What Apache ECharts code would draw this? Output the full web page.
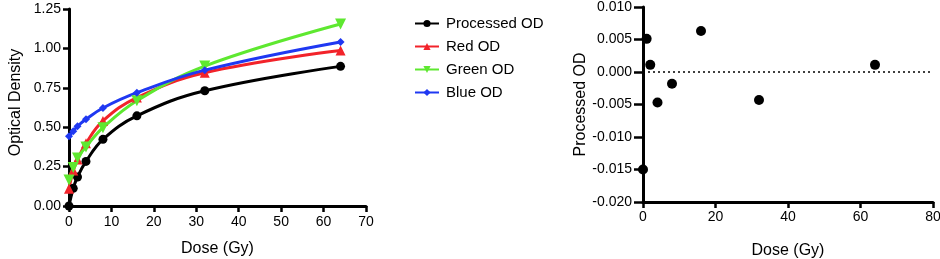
<!DOCTYPE html>
<html>
<head>
<meta charset="utf-8">
<script src="https://cdn.jsdelivr.net/npm/echarts@6/dist/echarts.min.js"></script>
<style>
  html, body { margin: 0; padding: 0; background: #fff; }
  #chart { width: 940px; height: 259px; }
</style>
</head>
<body>
<div id="chart"></div>
<script>
// dose points (Gy)
const doses = [0, 1, 2, 4, 8, 16, 32, 64];
// optical density per channel
const processedOD = [0.00, 0.112, 0.184, 0.283, 0.423, 0.572, 0.731, 0.886];
const redOD = [0.11, 0.225, 0.295, 0.398, 0.54, 0.688, 0.845, 0.986];
const greenOD = [0.165, 0.245, 0.305, 0.375, 0.497, 0.668, 0.888, 1.155];
const blueOD = [0.443, 0.475, 0.506, 0.55, 0.622, 0.719, 0.862, 1.041];
// residuals of processed OD
const residuals = [-0.015, 0.0051, 0.0011, -0.0047, -0.0018, 0.0063, -0.0043, 0.0011];

const toPairs = vals => doses.map((d, i) => [d, vals[i]]);

const font = 'Liberation Sans, Arial, sans-serif';

const axisCommon = {
  axisLine: { show: true, onZero: false, lineStyle: { color: '#000', width: 3 } },
  axisTick: { show: true, length: 6, lineStyle: { color: '#000', width: 2.5 } },
  axisLabel: { color: '#000', fontSize: 14, fontFamily: font },
  splitLine: { show: false },
  nameTextStyle: { color: '#000', fontSize: 16, fontFamily: font }
};

function odLine(name, vals, color, symbol, size, rotate) {
  return {
    name: name,
    type: 'line',
    xAxisIndex: 0,
    yAxisIndex: 0,
    data: toPairs(vals),
    smooth: 0.4,
    symbol: symbol,
    symbolSize: size,
    symbolRotate: rotate || 0,
    lineStyle: { color: color, width: 3 },
    itemStyle: { color: color, opacity: 1 },
    z: 3
  };
}

const chart = echarts.init(document.getElementById('chart'));

const option = {
  animation: false,
  backgroundColor: '#fff',
  legend: {
    orient: 'vertical',
    left: 409,
    top: 11,
    itemWidth: 24,
    itemHeight: 9,
    itemGap: 8,
    textStyle: { color: '#000', fontSize: 15, fontFamily: font, padding: [0, 0, 0, 2] },
    data: ['Processed OD', 'Red OD', 'Green OD', 'Blue OD']
  },
  grid: [
    { left: 69, top: 9, width: 297, height: 197, outerBoundsMode: 'none', containLabel: false },
    { left: 643, top: 7, width: 290, height: 195, outerBoundsMode: 'none', containLabel: false }
  ],
  xAxis: [
    Object.assign({}, axisCommon, {
      gridIndex: 0, type: 'value', min: 0, max: 70, interval: 10,
      name: 'Dose (Gy)', nameLocation: 'middle', nameGap: 35,
      axisLabel: Object.assign({}, axisCommon.axisLabel, { margin: 9 })
    }),
    Object.assign({}, axisCommon, {
      gridIndex: 1, type: 'value', min: 0, max: 80, interval: 20,
      name: 'Dose (Gy)', nameLocation: 'middle', nameGap: 41,
      axisLabel: Object.assign({}, axisCommon.axisLabel, { margin: 8 })
    })
  ],
  yAxis: [
    Object.assign({}, axisCommon, {
      gridIndex: 0, type: 'value', min: 0, max: 1.25, interval: 0.25,
      name: 'Optical Density', nameLocation: 'middle', nameGap: 45,
      nameTextStyle: Object.assign({}, axisCommon.nameTextStyle, { padding: [0, 0, 0, 10] }),
      axisLabel: Object.assign({}, axisCommon.axisLabel, {
        margin: 8, formatter: v => v.toFixed(2)
      })
    }),
    Object.assign({}, axisCommon, {
      gridIndex: 1, type: 'value', min: -0.02, max: 0.01, interval: 0.005,
      name: 'Processed OD', nameLocation: 'middle', nameGap: 50,
      axisTick: { show: true, length: 9, lineStyle: { color: '#000', width: 2.5 } },
      axisLabel: Object.assign({}, axisCommon.axisLabel, {
        margin: 11, formatter: v => v.toFixed(3)
      })
    })
  ],
  series: [
    odLine('Processed OD', processedOD, '#000000', 'circle', 9),
    odLine('Red OD', redOD, '#f2232a', 'triangle', 10),
    odLine('Green OD', greenOD, '#5ee830', 'triangle', 11, 180),
    odLine('Blue OD', blueOD, '#1f38f2', 'diamond', 8),
    {
      name: 'Residuals',
      type: 'scatter',
      xAxisIndex: 1,
      yAxisIndex: 1,
      data: toPairs(residuals),
      symbol: 'circle',
      symbolSize: 10,
      itemStyle: { color: '#000', opacity: 1 },
      markLine: {
        silent: true,
        symbol: 'none',
        label: { show: false },
        lineStyle: { color: '#000', type: [2, 3], width: 1.5, opacity: 1 },
        data: [{ yAxis: 0 }]
      }
    }
  ]
};

chart.setOption(option);
</script>
</body>
</html>
